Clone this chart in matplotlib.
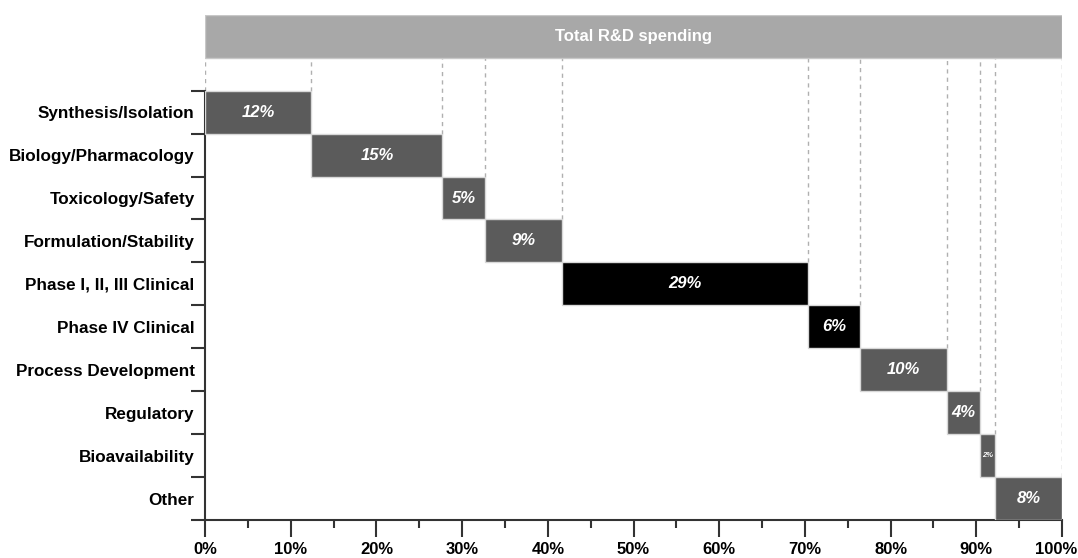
import numpy as np
import matplotlib.pyplot as plt
from matplotlib.transforms import ScaledTranslation

plt.rcParams['font.family'] = ['Liberation Sans', 'DejaVu Sans']

# Phases of R&D spending (share of total, %)
stages = ['Synthesis/Isolation', 'Biology/Pharmacology', 'Toxicology/Safety',
          'Formulation/Stability', 'Phase I, II, III Clinical', 'Phase IV Clinical',
          'Process Development', 'Regulatory', 'Bioavailability', 'Other']
shares = [12.4, 15.3, 5.0, 9.0, 28.7, 6.0, 10.2, 3.8, 1.8, 7.8]
share_labels = ['12%', '15%', '5%', '9%', '29%', '6%', '10%', '4%', '2%', '8%']
clinical = [False, False, False, False, True, True, False, False, False, False]

x_ticks = [0, 10, 20, 30, 40, 50, 60, 70, 80, 90, 100]
x_tick_labels = ['0%', '10%', '20%', '30%', '40%', '50%', '60%', '70%', '80%', '90%', '100%']

shares = np.array(shares)
ends = np.cumsum(shares)
starts = ends - shares
total = ends[-1]
rows = np.arange(len(stages))

fig = plt.figure(figsize=(10.78, 5.58), dpi=100)
ax = fig.add_axes([0.1902, 0.0681, 0.795, 0.905])

colors = ['#000000' if c else '#5b5b5b' for c in clinical]
ax.barh(rows, shares, left=starts, height=1.0, color=colors,
        edgecolor='#d8d8d8', linewidth=1, zorder=3)

# total bar on top
top_y = -1.76
ax.barh(top_y, total, left=0, height=1.01, color='#a8a8a8',
        edgecolor='#c8c8c8', linewidth=1, zorder=3)
ax.text(total / 2, top_y, 'Total R&D spending', color='white', fontsize=12,
        fontweight='bold', ha='center', va='center', zorder=4)

# dashed guides from the total bar down to each segment
gray_bottom = top_y + 0.505
ax.vlines(0, rows[0] - 0.5, gray_bottom, colors='#b0b0b0', linestyles=(0, (3, 3)),
          linewidth=1, zorder=1)
for i in rows:
    ax.vlines(ends[i], rows[i] - 0.5, gray_bottom, colors='#b0b0b0',
              linestyles=(0, (3, 3)), linewidth=1, zorder=1)

for i in rows:
    fs = 5.5 if shares[i] < 2.5 else 12
    ax.text(starts[i] + shares[i] / 2, rows[i], share_labels[i], color='white',
            fontsize=fs, fontweight='bold', fontstyle='italic',
            ha='center', va='center', zorder=4)

ax.set_xlim(0, 100)
ax.set_ylim(9.5, -2.263)

# y axis: boundary ticks, labels at row centres
ax.set_yticks(np.arange(-0.5, len(stages), 1.0))
ax.set_yticklabels([])
ax.set_yticks(rows, minor=True)
ax.set_yticklabels(stages, minor=True, fontsize=12.3, fontweight='bold')
ax.tick_params(axis='y', which='major', length=10, width=1.5, color='#333333')
ax.tick_params(axis='y', which='minor', length=0, pad=7.5)

ax.set_xticks(x_ticks)
ax.set_xticklabels(x_tick_labels, fontsize=12, fontweight='bold')
ax.set_xticks(np.arange(5, 100, 10), minor=True)
ax.tick_params(axis='x', which='major', length=12, width=1.5, color='#333333', pad=4)
ax.tick_params(axis='x', which='minor', length=6, width=1.5, color='#333333')

# nudge the last label so it stays inside the picture
last = ax.get_xticklabels()[-1]
last.set_transform(last.get_transform() + ScaledTranslation(-0.06, 0, fig.dpi_scale_trans))

for s in ['top', 'right']:
    ax.spines[s].set_visible(False)
ax.spines['left'].set_bounds(9.5, -0.5)
ax.spines['left'].set_linewidth(1.5)
ax.spines['left'].set_color('#333333')
ax.spines['bottom'].set_linewidth(1.5)
ax.spines['bottom'].set_color('#333333')

fig.savefig('out.png', dpi=100)
